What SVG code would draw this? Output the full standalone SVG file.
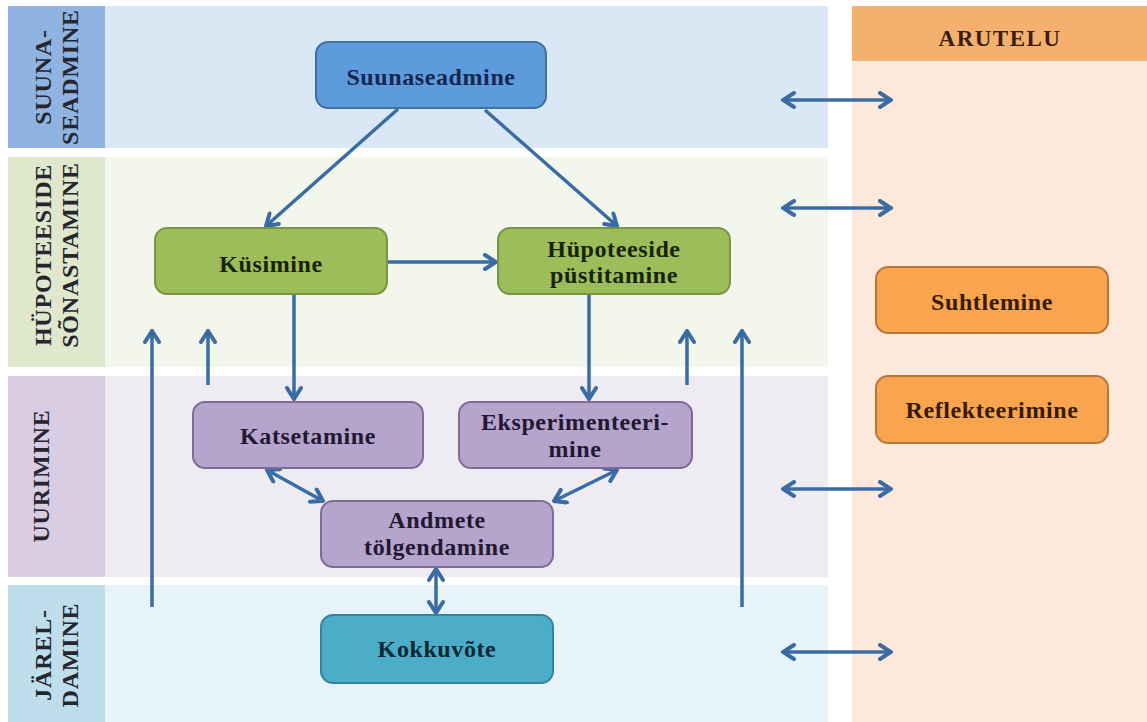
<svg xmlns="http://www.w3.org/2000/svg" width="1147" height="722" viewBox="0 0 1147 722">
<defs>
<style>
.t{font-family:"Liberation Serif","Times New Roman",serif;font-weight:bold;font-size:24px;text-anchor:middle;letter-spacing:0.6px}
.lab{font-family:"Liberation Serif","Times New Roman",serif;font-weight:bold;font-size:24px;text-anchor:middle;fill:#26262e;letter-spacing:0.8px}
.c{stroke:#3a6ca3;stroke-width:3.5;fill:none;marker-end:url(#ah)}
.d{stroke:#3a6ca3;stroke-width:3.5;fill:none;marker-end:url(#ah);marker-start:url(#ah)}
.n{stroke-width:2}
</style>
<marker id="ah" viewBox="-14 -9 16 18" refX="0" refY="0" markerWidth="16" markerHeight="18" markerUnits="userSpaceOnUse" orient="auto-start-reverse">
<path d="M-11,-7 L0,0 L-11,7" fill="none" stroke="#3a6ca3" stroke-width="4" stroke-linecap="round" stroke-linejoin="miter"/>
</marker>
</defs>
<rect width="1147" height="722" fill="#ffffff"/>
<g id="bands">
<rect x="105" y="6" width="723" height="142" fill="#dae8f6"/>
<rect x="8" y="6" width="97" height="142" fill="#8fb4e2"/>
<rect x="105" y="157" width="723" height="210" fill="#f3f6ec"/>
<rect x="8" y="157" width="97" height="210" fill="#dfe7cd"/>
<rect x="105" y="376" width="723" height="201" fill="#efebf3"/>
<rect x="8" y="376" width="97" height="201" fill="#d8cde3"/>
<rect x="105" y="585" width="723" height="137" fill="#e6f3f9"/>
<rect x="8" y="585" width="97" height="137" fill="#bddeea"/>
<rect x="852" y="61" width="295" height="661" fill="#fde9db"/>
<rect x="852" y="6" width="295" height="55" fill="#f5b06f"/>
<text x="1000" y="46" class="lab" style="font-size:23px;letter-spacing:1.5px;fill:#3a1e0c">ARUTELU</text>
<text class="lab" transform="translate(51,77) rotate(-90)">SUUNA-</text>
<text class="lab" transform="translate(78,77) rotate(-90)">SEADMINE</text>
<text class="lab" transform="translate(51,255) rotate(-90)">HÜPOTEESIDE</text>
<text class="lab" transform="translate(78,255) rotate(-90)">SÕNASTAMINE</text>
<text class="lab" transform="translate(49,476) rotate(-90)">UURIMINE</text>
<text class="lab" transform="translate(51,655) rotate(-90)">JÄREL-</text>
<text class="lab" transform="translate(78,655) rotate(-90)">DAMINE</text>
</g>
<g id="connectors">
<line class="c" x1="398" y1="109" x2="266" y2="226"/>
<line class="c" x1="485" y1="110" x2="617" y2="226"/>
<line class="c" x1="388" y1="262" x2="496" y2="262"/>
<line class="c" x1="294" y1="295" x2="294" y2="399"/>
<line class="c" x1="589" y1="295" x2="589" y2="399"/>
<line class="c" x1="152" y1="607" x2="152" y2="331"/>
<line class="c" x1="208" y1="385" x2="208" y2="331"/>
<line class="c" x1="687" y1="385" x2="687" y2="331"/>
<line class="c" x1="742" y1="607" x2="742" y2="331"/>
<line class="d" x1="267" y1="470" x2="323" y2="501"/>
<line class="d" x1="617" y1="470" x2="554" y2="501"/>
<line class="d" x1="436" y1="569" x2="436" y2="613"/>
<line class="d" x1="783" y1="100" x2="891" y2="100"/>
<line class="d" x1="783" y1="208" x2="891" y2="208"/>
<line class="d" x1="783" y1="489" x2="891" y2="489"/>
<line class="d" x1="783" y1="652" x2="891" y2="652"/>
</g>
<g id="suunaseadmine">
<rect class="n" x="316" y="42" width="230" height="66" rx="12" fill="#5e9bdc" stroke="#41719c"/>
<text class="t" x="431" y="85" fill="#162650">Suunaseadmine</text>
</g>
<g id="kusimine">
<rect class="n" x="155" y="228" width="232" height="66" rx="12" fill="#9dbd5a" stroke="#7a9444"/>
<text class="t" x="271" y="272" fill="#18230a">Küsimine</text>
</g>
<g id="hupoteeside">
<rect class="n" x="498" y="228" width="232" height="66" rx="12" fill="#9dbd5a" stroke="#7a9444"/>
<text class="t" x="614" y="257" fill="#18230a">Hüpoteeside</text>
<text class="t" x="614" y="283" fill="#18230a">püstitamine</text>
</g>
<g id="katsetamine">
<rect class="n" x="193" y="402" width="230" height="66" rx="12" fill="#b5a4cb" stroke="#7e6b98"/>
<text class="t" x="308" y="444" fill="#221832">Katsetamine</text>
</g>
<g id="eksperimenteerimine">
<rect class="n" x="459" y="402" width="233" height="66" rx="12" fill="#b5a4cb" stroke="#7e6b98"/>
<text class="t" x="575" y="430" fill="#221832">Eksperimenteeri-</text>
<text class="t" x="575" y="457" fill="#221832">mine</text>
</g>
<g id="andmete">
<rect class="n" x="321" y="501" width="232" height="66" rx="12" fill="#b5a4cb" stroke="#7e6b98"/>
<text class="t" x="437" y="528" fill="#221832">Andmete</text>
<text class="t" x="437" y="555" fill="#221832">tölgendamine</text>
</g>
<g id="kokkuvote">
<rect class="n" x="321" y="615" width="232" height="68" rx="12" fill="#4badc7" stroke="#33839a"/>
<text class="t" x="437" y="657" fill="#0c2833">Kokkuvõte</text>
</g>
<g id="suhtlemine">
<rect class="n" x="876" y="267" width="232" height="66" rx="12" fill="#f9a550" stroke="#b7773c"/>
<text class="t" x="992" y="310" fill="#361b06">Suhtlemine</text>
</g>
<g id="reflekteerimine">
<rect class="n" x="876" y="376" width="232" height="67" rx="12" fill="#f9a550" stroke="#b7773c"/>
<text class="t" x="992" y="418" fill="#361b06">Reflekteerimine</text>
</g>
</svg>
